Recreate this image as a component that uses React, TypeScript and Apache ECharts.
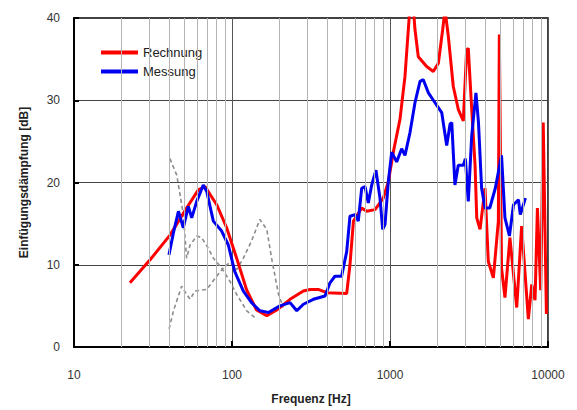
import React, { useEffect, useRef } from "react";
import * as echarts from "echarts";

const xTickLabels = [10, 100, 1000, 10000];
const yTicks = [0, 10, 20, 30, 40];

const rechnungFreq = [22.6, 30.3, 40.5, 51.6, 61.2, 67.5, 80, 92.5, 107, 124, 143, 166, 192, 233, 283, 312, 351, 398, 532, 558, 587, 662, 712, 804, 907, 976, 1050, 1157, 1244, 1306, 1370, 1439, 1510, 1706, 1880, 2023, 2155, 2229, 2339, 2514, 2704, 2911, 3055, 3130, 3290, 3454, 3540, 3715, 3993, 4190, 4510, 4850, 4920, 5080, 5340, 5740, 6340, 6810, 7510, 7890, 8280, 8570, 8990, 9330, 9770];
const rechnungDb = [7.8, 10.6, 13.6, 16.9, 19.1, 19.5, 17.3, 14.5, 10.8, 6.9, 4.5, 3.8, 4.5, 5.8, 6.8, 7.0, 7.0, 6.6, 6.5, 10, 15.3, 16.9, 16.5, 16.7, 18.1, 20.1, 23.7, 27.7, 32.9, 38.6, 44, 38.6, 35.3, 34.1, 33.5, 34.5, 38.6, 41, 37.8, 31.7, 28.9, 27.5, 36.1, 36.3, 28.9, 22.1, 15.7, 14.3, 19.3, 10.4, 8.4, 15.3, 38, 9.6, 6, 13.3, 4.8, 14.7, 3.4, 7.6, 5.7, 16.9, 6.9, 27.3, 4.0];

const messungFreq = [39.9, 42.6, 45.8, 49.2, 52.9, 55.6, 59.8, 65.8, 69.2, 76.2, 86, 94.8, 104, 118, 133, 150, 170, 201, 233, 257, 283, 327, 388, 417, 448, 494, 532, 558, 600, 630, 662, 695, 729, 766, 815, 864, 899, 930, 976, 1025, 1102, 1185, 1244, 1339, 1439, 1549, 1625, 1750, 1928, 2125, 2285, 2400, 2460, 2576, 2704, 2911, 3000, 3130, 3290, 3500, 3630, 3800, 3993, 4280, 4640, 5080, 5340, 5700, 6050, 6500, 6680, 7200];
const messungDb = [11.2, 13.9, 16.5, 14.5, 17.1, 15.7, 17.7, 19.7, 18.9, 15.3, 14.1, 12.4, 9.2, 6.8, 5.4, 4.4, 4.2, 5.0, 5.4, 4.4, 5.2, 5.8, 6.2, 7.8, 8.6, 8.6, 11.6, 15.9, 16.1, 15.3, 19.3, 19.5, 17.5, 19.7, 21.5, 18.1, 14.3, 14.9, 20.1, 23.7, 22.5, 24.1, 23.3, 26.1, 29.7, 32.3, 32.5, 30.9, 29.7, 28.5, 24.5, 27.1, 27.3, 19.7, 22.1, 22.1, 22.9, 17.7, 25.7, 30.9, 27.3, 19.3, 16.9, 16.9, 19.3, 23.3, 15.7, 13.5, 17.3, 17.9, 16.1, 18.1];

const dashAFreq = [40, 42.6, 48, 51.6, 54.3, 58.3, 69.2, 80, 88, 97, 107, 118, 133, 150, 166, 178, 197, 211];
const dashADb = [2.2, 4.4, 7.4, 6.4, 5.8, 6.8, 7.0, 8.6, 9.6, 10.3, 9.4, 10.8, 12.9, 15.5, 14.3, 10.8, 6.4, 4.8];

const dashBFreq = [40.5, 44.7, 49.2, 51.6, 54.3, 59.8, 64.2, 70.8, 76.2, 86, 97, 107, 124, 139];
const dashBDb = [22.9, 20.9, 16.1, 10.8, 12.4, 13.5, 13.3, 12.0, 10.8, 9.6, 8.0, 6.4, 4.4, 3.6];

const zip = (f: number[], v: number[]) => f.map((x, i) => [x, v[i]]);

const minorGrid: number[] = [];
for (const d of [10, 100, 1000]) {
  for (let m = 2; m <= 9; m++) minorGrid.push(d * m);
}

const FONT = "Liberation Sans, Arial, sans-serif";

export default function App() {
  const ref = useRef<HTMLDivElement>(null);
  useEffect(() => {
    if (!ref.current) return;
    const chart = echarts.init(ref.current, undefined, { renderer: "svg" });
    chart.setOption({
      animation: false,
      backgroundColor: "#ffffff",
      textStyle: { fontFamily: FONT },
      grid: {
        left: 74,
        top: 18,
        width: 474,
        height: 332,
        show: true,
        borderColor: "#000",
        borderWidth: 1.5,
        backgroundColor: "transparent",
      },
      legend: {
        left: 96,
        top: 41,
        orient: "vertical",
        itemWidth: 37,
        itemHeight: 4,
        itemGap: 6,
        icon: "rect",
        data: ["Rechnung", "Messung"],
        textStyle: { fontFamily: FONT, fontSize: 13, color: "#222" },
      },
      xAxis: {
        type: "log",
        logBase: 10,
        min: xTickLabels[0],
        max: xTickLabels[xTickLabels.length - 1],
        name: "Frequenz [Hz]",
        nameLocation: "middle",
        nameGap: 46,
        nameTextStyle: { fontFamily: FONT, fontSize: 12, fontWeight: "bold", color: "#222" },
        axisLine: { show: true, onZero: false, lineStyle: { color: "#000", width: 2 } },
        axisTick: { show: true, inside: true, length: 6, lineStyle: { color: "#000", width: 2 } },
        axisLabel: {
          margin: 22,
          fontSize: 12,
          color: "#333",
          fontFamily: FONT,
          formatter: (v: number) => String(Math.round(v)),
        },
        splitLine: { show: true, lineStyle: { color: "#555", width: 1 } },
      },
      yAxis: {
        type: "value",
        min: yTicks[0],
        max: yTicks[yTicks.length - 1],
        interval: 10,
        name: "Einfügungsdämpfung [dB]",
        nameLocation: "middle",
        nameGap: 44,
        nameTextStyle: { fontFamily: FONT, fontSize: 12, fontWeight: "bold", color: "#222" },
        axisLine: { show: true, lineStyle: { color: "#000", width: 2 } },
        axisTick: { show: true, inside: true, length: 5, lineStyle: { color: "#000", width: 2 } },
        axisLabel: { margin: 14, fontSize: 12, color: "#333", fontFamily: FONT },
        splitLine: { show: true, lineStyle: { color: "#444", width: 1 } },
      },
      series: [
        {
          name: "grid",
          type: "line",
          data: [],
          z: 1,
          silent: true,
          markLine: {
            silent: true,
            symbol: ["none", "none"],
            label: { show: false },
            lineStyle: { color: "#b4b4b4", width: 1, type: "solid" },
            data: minorGrid.map((v) => ({ xAxis: v })),
          },
        },
        {
          name: "dashA",
          type: "line",
          data: zip(dashAFreq, dashADb),
          showSymbol: false,
          z: 2,
          lineStyle: { color: "#8c8c8c", width: 1.6, type: [4, 3] },
          itemStyle: { color: "#8c8c8c" },
        },
        {
          name: "dashB",
          type: "line",
          data: zip(dashBFreq, dashBDb),
          showSymbol: false,
          z: 2,
          lineStyle: { color: "#8c8c8c", width: 1.6, type: [4, 3] },
          itemStyle: { color: "#8c8c8c" },
        },
        {
          name: "Rechnung",
          type: "line",
          data: zip(rechnungFreq, rechnungDb),
          showSymbol: false,
          clip: true,
          z: 3,
          lineStyle: { color: "#ff0000", width: 3 },
          itemStyle: { color: "#ff0000" },
        },
        {
          name: "Messung",
          type: "line",
          data: zip(messungFreq, messungDb),
          showSymbol: false,
          clip: true,
          z: 4,
          lineStyle: { color: "#0000f0", width: 3 },
          itemStyle: { color: "#0000f0" },
        },
      ],
    });
    return () => chart.dispose();
  }, []);
  return (
    <div
      ref={ref}
      style={{ position: "fixed", left: 0, top: 0, width: 577, height: 410, background: "#fff" }}
    />
  );
}
